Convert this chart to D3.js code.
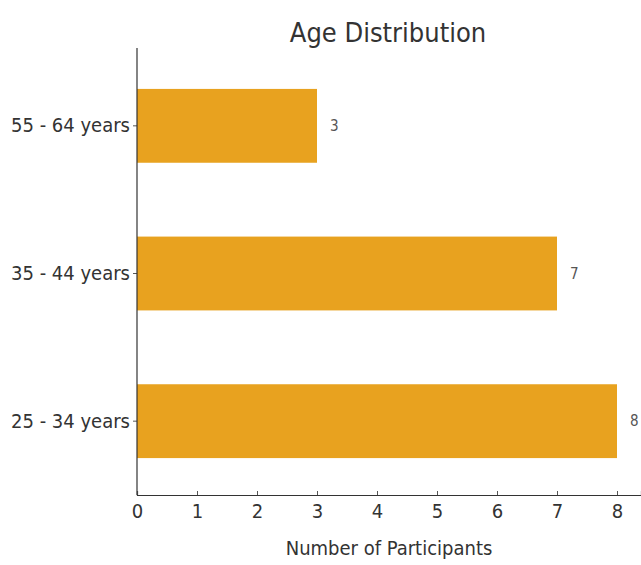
<!DOCTYPE html>
<html>
<head>
<meta charset="utf-8">
<script src="https://cdn.jsdelivr.net/npm/d3@7"></script>
<style>
  body { margin: 0; background: #fff; }
  text { font-family: "DejaVu Sans Condensed", "DejaVu Sans", sans-serif; font-stretch: condensed; }
</style>
</head>
<body>
<div id="chart"></div>
<script>
// Chart data
const categories = ["25 - 34 years", "35 - 44 years", "55 - 64 years"];
const participants = [8, 7, 3];
const xTicks = [0, 1, 2, 3, 4, 5, 6, 7, 8];

const width = 641, height = 565;
const margin = { top: 48, right: 0, bottom: 70, left: 137 };

const svg = d3.select("#chart").append("svg")
  .attr("width", width)
  .attr("height", height);

const x = d3.scaleLinear()
  .domain([0, 8.4])
  .range([margin.left, margin.left + 504]);

const y = d3.scaleBand()
  .domain(categories)
  .range([height - margin.bottom, 52])
  .paddingInner(0.5)
  .paddingOuter(0.25);

// Bars
svg.selectAll(".bar")
  .data(categories)
  .enter()
  .append("rect")
  .attr("class", "bar")
  .attr("x", x(0))
  .attr("y", d => y(d))
  .attr("width", (d, i) => x(participants[i]) - x(0))
  .attr("height", y.bandwidth())
  .attr("fill", "#E8A21F");

// Value labels
svg.selectAll(".val")
  .data(categories)
  .enter()
  .append("text")
  .attr("class", "val")
  .attr("x", (d, i) => x(participants[i]) + 13)
  .attr("y", d => y(d) + y.bandwidth() / 2)
  .attr("dy", "0.35em")
  .attr("font-size", 15)
  .attr("fill", "#555")
  .text((d, i) => participants[i]);

// X axis
const xAxis = svg.append("g")
  .attr("transform", `translate(0,${height - margin.bottom})`)
  .call(d3.axisBottom(x).tickValues(xTicks).tickSize(-4).tickPadding(9));
xAxis.select(".domain").attr("stroke", "#333").attr("stroke-width", 1.2);
xAxis.selectAll(".tick line").attr("stroke", "#555");
xAxis.selectAll(".tick text").attr("font-size", 20).attr("fill", "#333");

// Y axis
const yAxis = svg.append("g")
  .attr("transform", `translate(${margin.left},0)`)
  .call(d3.axisLeft(y).tickSize(4).tickPadding(3));
yAxis.select(".domain").remove();
yAxis.append("line")
  .attr("x1", 0).attr("x2", 0)
  .attr("y1", margin.top).attr("y2", height - margin.bottom)
  .attr("stroke", "#333").attr("stroke-width", 1.2);
yAxis.selectAll(".tick line").attr("stroke", "#555");
yAxis.selectAll(".tick text").attr("font-size", 20).attr("fill", "#333");

// Title
svg.append("text")
  .attr("x", 388)
  .attr("y", 42)
  .attr("text-anchor", "middle")
  .attr("font-size", 27)
  .attr("fill", "#333")
  .text("Age Distribution");

// X axis label
svg.append("text")
  .attr("x", 389)
  .attr("y", 555)
  .attr("text-anchor", "middle")
  .attr("font-size", 20)
  .attr("fill", "#333")
  .text("Number of Participants");
</script>
</body>
</html>
